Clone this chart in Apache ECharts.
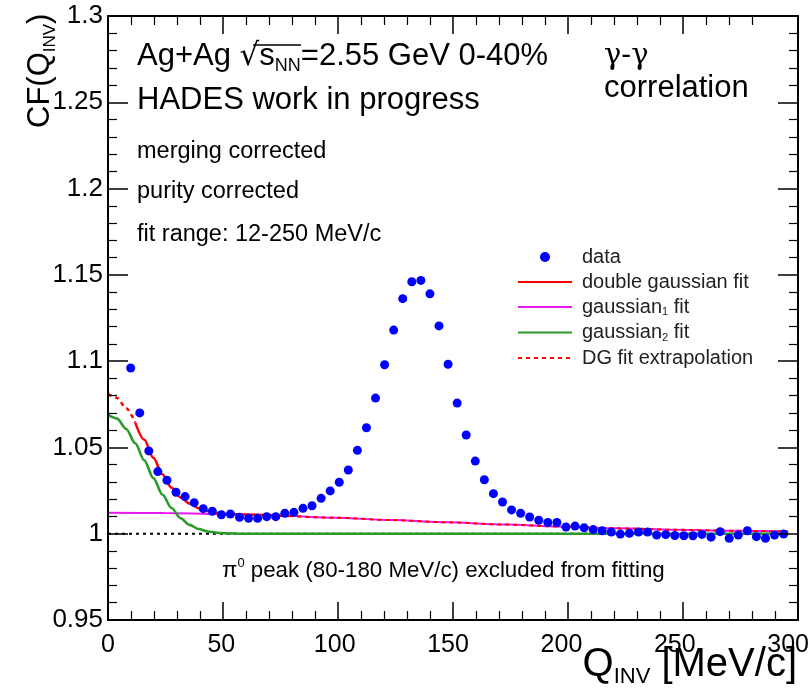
<!DOCTYPE html>
<html>
<head>
<meta charset="utf-8">
<script src="https://cdn.jsdelivr.net/npm/echarts@6/dist/echarts.min.js"></script>
<style>
  html, body { margin: 0; padding: 0; background: #fff; }
  .layer { position: absolute; left: 0; top: 0; width: 812px; height: 698px; }
  #chart { z-index: 0; }
  #frame { z-index: 1; pointer-events: none; }
</style>
</head>
<body>
<div id="chart" class="layer"></div>
<div id="frame" class="layer"></div>
<script>
// gamma-gamma correlation function, Ag+Ag 2.55 GeV
const qInv = [
  10, 14, 18, 22, 26, 30, 34, 38, 42, 46, 50, 54, 58, 62, 66, 70, 74, 78, 82, 86,
  90, 94, 98, 102, 106, 110, 114, 118, 122, 126, 130, 134, 138, 142, 146, 150,
  154, 158, 162, 166, 170, 174, 178, 182, 186, 190, 194, 198, 202, 206, 210, 214,
  218, 222, 226, 230, 234, 238, 242, 246, 250, 254, 258, 262, 266, 270, 274, 278,
  282, 286, 290, 294, 298
];
const cfData = [
  1.096, 1.070, 1.048, 1.036, 1.031, 1.024, 1.0215, 1.018, 1.0145, 1.013, 1.011,
  1.0114, 1.0095, 1.0089, 1.0089, 1.0099, 1.0099, 1.0118, 1.0124, 1.0147,
  1.0162, 1.0205, 1.0248, 1.0298, 1.0369, 1.0483, 1.0614, 1.0786, 1.0979, 1.118,
  1.1362, 1.146, 1.1468, 1.139, 1.1204, 1.0982, 1.0757, 1.0572, 1.0421, 1.0313,
  1.0232, 1.0184, 1.0138, 1.0118, 1.0097, 1.0078, 1.0065, 1.0065, 1.0039, 1.0044,
  1.0034, 1.0024, 1.0017, 1.001, 0.9998, 1.0002, 1.001, 1.001, 0.9992, 0.9995,
  0.9989, 0.9988, 0.9988, 0.9996, 0.998, 1.0012, 0.9973, 0.9992, 1.0017, 0.9983,
  0.9973, 0.9992, 0.9998
];

// fit curves
const dgX = [0, 4, 8, 12, 16, 20, 24, 28, 32, 36, 40, 44, 48, 52, 60, 80, 100, 125, 150, 175, 200, 225, 250, 275, 300];
const dgY = [1.081, 1.0787, 1.0727, 1.0644, 1.0545, 1.044, 1.0345, 1.0266, 1.021, 1.0175, 1.0148,
  1.013, 1.012, 1.0114, 1.0111, 1.0102, 1.0093, 1.0079, 1.0066, 1.0053, 1.0041, 1.0031, 1.0023, 1.0017, 1.0013];
const g1X = [0, 25, 50, 75, 100, 125, 150, 175, 200, 225, 250, 275, 300];
const g1Y = [1.0122, 1.012, 1.0114, 1.0105, 1.0093, 1.0079, 1.0066, 1.0053, 1.0041, 1.0031, 1.0023, 1.0017, 1.0013];
const g2X = [0, 4, 8, 12, 16, 20, 24, 28, 32, 36, 40, 44, 48, 52, 60, 300];
const g2Y = [1.0688, 1.0667, 1.0607, 1.0524, 1.0425, 1.0322, 1.0227, 1.0149, 1.009, 1.0051,
  1.0027, 1.0013, 1.0006, 1.0002, 1.0, 1.0];
const baseX = [0, 300];
const baseY = [1, 1];

const fitLow = 12;
const solidHigh = 80;

const xTicks = { min: 0, max: 300, interval: 50 };
const yTicks = { min: 0.95, max: 1.3, interval: 0.05 };
const yTickLabels = ["0.95", "1", "1.05", "1.1", "1.15", "1.2", "1.25", "1.3"];

const FONT = "Liberation Sans";
const GRID = { left: 108, right: 14, top: 16, bottom: 78 };

function zip(xs, ys) {
  return xs.map((x, i) => [x, ys[i]]);
}
function slice(xs, ys, lo, hi) {
  return zip(xs, ys).filter((p) => p[0] >= lo && p[0] <= hi);
}

// main layer: labels, curves, data, texts
const chart = echarts.init(document.getElementById("chart"));

const xAxisMain = {
  type: "value",
  min: xTicks.min,
  max: xTicks.max,
  interval: xTicks.interval,
  axisLine: { show: true, onZero: false, lineStyle: { color: "#000", width: 2 } },
  axisTick: { show: false },
  axisLabel: { color: "#000", fontSize: 25, fontFamily: FONT, margin: 13 },
  splitLine: { show: false },
};
const yAxisMain = {
  type: "value",
  min: yTicks.min,
  max: yTicks.max,
  interval: yTicks.interval,
  axisLine: { show: true, onZero: false, lineStyle: { color: "#000", width: 2 } },
  axisTick: { show: false },
  axisLabel: {
    color: "#000",
    fontSize: 26,
    fontFamily: FONT,
    margin: 5,
    formatter: (v) => yTickLabels[Math.round((v - yTicks.min) / yTicks.interval)],
  },
  splitLine: { show: false },
};

const legendNames = {
  "data": "data",
  "double gaussian fit": "double gaussian fit",
  "gaussian_1 fit": "gaussian{sub|1} fit",
  "gaussian_2 fit": "gaussian{sub|2} fit",
  "DG fit extrapolation": "DG fit extrapolation",
};
const noSymbol = { opacity: 0 };

const RED = "#ff0000";
const MAGENTA = "#e619f0";
const GREEN = "#2a9a2a";
const BLUE = "#0000ff";

chart.setOption({
  animation: false,
  backgroundColor: "transparent",
  grid: GRID,
  xAxis: xAxisMain,
  yAxis: yAxisMain,
  legend: {
    orient: "vertical",
    left: 517,
    top: 247,
    padding: 0,
    itemWidth: 54,
    itemHeight: 10,
    itemGap: 5,
    data: [
      { name: "data", icon: "circle" },
      { name: "double gaussian fit", itemStyle: noSymbol },
      { name: "gaussian_1 fit", itemStyle: noSymbol },
      { name: "gaussian_2 fit", itemStyle: noSymbol },
      { name: "DG fit extrapolation", itemStyle: noSymbol },
    ],
    formatter: (name) => legendNames[name],
    textStyle: {
      color: "#222",
      fontSize: 20,
      fontFamily: FONT,
      padding: [0, 0, 0, 5],
      rich: {
        sub: { fontSize: 11, fontFamily: FONT, verticalAlign: "bottom", padding: [10, 0, 0, 0] },
      },
    },
  },
  series: [
    {
      name: "baseline",
      type: "line",
      data: zip(baseX, baseY),
      symbol: "none",
      lineStyle: { color: "#000", width: 2, type: [3, 4] },
    },
    {
      name: "gaussian_1 fit",
      type: "line",
      data: zip(g1X, g1Y),
      symbol: "none",
      smooth: 0.3,
      smoothMonotone: "x",
      lineStyle: { color: MAGENTA, width: 2 },
      itemStyle: { color: MAGENTA },
    },
    {
      name: "gaussian_2 fit",
      type: "line",
      data: zip(g2X, g2Y),
      symbol: "none",
      smooth: 0.3,
      smoothMonotone: "x",
      lineStyle: { color: GREEN, width: 2.6 },
      itemStyle: { color: GREEN },
    },
    {
      name: "double gaussian fit",
      type: "line",
      data: slice(dgX, dgY, fitLow, solidHigh),
      symbol: "none",
      smooth: 0.3,
      smoothMonotone: "x",
      lineStyle: { color: RED, width: 2.5 },
      itemStyle: { color: RED },
    },
    {
      name: "DG fit extrapolation",
      type: "line",
      data: slice(dgX, dgY, 0, fitLow),
      symbol: "none",
      smooth: 0.3,
      smoothMonotone: "x",
      lineStyle: { color: RED, width: 2.5, type: [4, 4] },
      itemStyle: { color: RED },
    },
    {
      name: "DG fit extrapolation",
      type: "line",
      data: slice(dgX, dgY, solidHigh, 300),
      symbol: "none",
      smooth: 0.3,
      smoothMonotone: "x",
      lineStyle: { color: RED, width: 2, type: [4, 4] },
      itemStyle: { color: RED },
    },
    {
      name: "data",
      type: "scatter",
      data: zip(qInv, cfData),
      symbol: "circle",
      symbolSize: 9,
      itemStyle: { color: BLUE, opacity: 1 },
      z: 5,
    },
  ],
  graphic: [
    {
      type: "text",
      left: 137,
      top: 41,
      style: {
        text: "{a|Ag+Ag }{r|√}{a|s}{s|NN}{a|=2.55 GeV 0-40%}",
        fill: "#000",
        rich: {
          a: { fontSize: 31, fontFamily: FONT, lineHeight: 38 },
          r: { fontSize: 31, fontFamily: "DejaVu Sans", lineHeight: 38 },
          s: { fontSize: 18, fontFamily: FONT, lineHeight: 38, verticalAlign: "bottom" },
        },
      },
    },
    {
      // overline of the square root
      type: "line",
      shape: { x1: 253, y1: 45, x2: 301, y2: 45 },
      style: { stroke: "#000", lineWidth: 1.5 },
    },
    {
      type: "text",
      left: 137,
      top: 85,
      style: { text: "HADES work in progress", fill: "#000", fontSize: 31, fontFamily: FONT },
    },
    {
      type: "text",
      left: 137,
      top: 140,
      style: { text: "merging corrected", fill: "#000", fontSize: 23.5, fontFamily: FONT },
    },
    {
      type: "text",
      left: 137,
      top: 180,
      style: { text: "purity corrected", fill: "#000", fontSize: 23.5, fontFamily: FONT },
    },
    {
      type: "text",
      left: 137,
      top: 223,
      style: { text: "fit range: 12-250 MeV/c", fill: "#000", fontSize: 23.5, fontFamily: FONT },
    },
    {
      type: "text",
      left: 604,
      top: 42,
      style: { text: "γ-γ", fill: "#000", fontSize: 29, fontFamily: "DejaVu Serif" },
    },
    {
      type: "text",
      left: 604,
      top: 73,
      style: { text: "correlation", fill: "#000", fontSize: 31, fontFamily: FONT },
    },
    {
      type: "text",
      left: 222,
      top: 557,
      style: {
        text: "{a|π}{s|0}{a| peak (80-180 MeV/c) excluded from fitting}",
        fill: "#000",
        rich: {
          a: { fontSize: 22.3, fontFamily: FONT, lineHeight: 28 },
          s: { fontSize: 13, fontFamily: FONT, lineHeight: 28, verticalAlign: "top" },
        },
      },
    },
    {
      type: "text",
      right: 15,
      top: 645,
      style: {
        text: "{a|Q}{s|INV}{a| [MeV/c]}",
        fill: "#000",
        rich: {
          a: { fontSize: 40, fontFamily: FONT, lineHeight: 46 },
          s: { fontSize: 22, fontFamily: FONT, lineHeight: 46, verticalAlign: "bottom" },
        },
      },
    },
    {
      type: "text",
      x: 40,
      y: 128,
      rotation: Math.PI / 2,
      style: {
        text: "{a|CF(Q}{s|INV}{a|)}",
        fill: "#000",
        align: "left",
        verticalAlign: "middle",
        rich: {
          a: { fontSize: 31, fontFamily: FONT, lineHeight: 38 },
          s: { fontSize: 17, fontFamily: FONT, lineHeight: 38, verticalAlign: "bottom" },
        },
      },
    },
  ],
});

// frame layer on top: axis box with ROOT-style inner ticks on all four sides
function tickAxis(range, pos, majorLen) {
  return {
    type: "value",
    position: pos,
    min: range.min,
    max: range.max,
    interval: range.interval,
    axisLine: { show: true, onZero: false, lineStyle: { color: "#000", width: 2 } },
    axisTick: { show: true, inside: true, length: majorLen, lineStyle: { color: "#000", width: 1.5 } },
    minorTick: { show: true, splitNumber: 5, length: 9, lineStyle: { color: "#000", width: 1.2 } },
    axisLabel: { show: false },
    splitLine: { show: false },
  };
}
const frameChart = echarts.init(document.getElementById("frame"));
frameChart.setOption({
  animation: false,
  backgroundColor: "transparent",
  grid: GRID,
  xAxis: [tickAxis(xTicks, "bottom", 18), tickAxis(xTicks, "top", 18)],
  yAxis: [tickAxis(yTicks, "left", 20), tickAxis(yTicks, "right", 20)],
  series: [{ type: "line", data: [[0, 2], [300, 2]], symbol: "none", lineStyle: { opacity: 0 } }],
});
</script>
</body>
</html>
